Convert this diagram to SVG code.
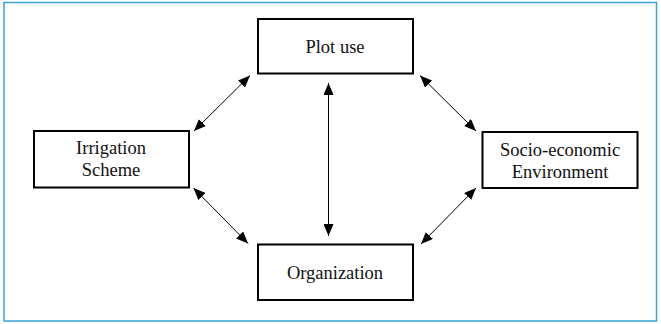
<svg xmlns="http://www.w3.org/2000/svg" width="661" height="324" viewBox="0 0 661 324">
  <style>
    .box { fill: #ffffff; stroke: #000000; stroke-width: 2; }
    .lbl { font-family: "Liberation Serif", "Times New Roman", serif; font-size: 18.5px; fill: #111111; text-anchor: middle; }
    .conn { stroke: #000000; stroke-width: 1; fill: none; marker-start: url(#ah); marker-end: url(#ah); }
  </style>
  <defs>
    <marker id="ah" viewBox="0 0 12 10" refX="12" refY="5" markerWidth="12" markerHeight="10" markerUnits="userSpaceOnUse" orient="auto-start-reverse">
      <path d="M0,0 L12,5 L0,10 z" fill="#000000"/>
    </marker>
  </defs>
  <rect x="0" y="0" width="661" height="324" fill="#ffffff"/>
  <rect x="4" y="2.5" width="652.5" height="318.5" fill="none" stroke="#3aa0d6" stroke-width="1.5"/>

  <g id="connectors">
    <line class="conn" x1="328.5" y1="83" x2="328.5" y2="236"/>
    <line class="conn" x1="250" y1="75.5" x2="194" y2="131"/>
    <line class="conn" x1="420" y1="75.5" x2="476" y2="131"/>
    <line class="conn" x1="193.5" y1="188" x2="248" y2="243.5"/>
    <line class="conn" x1="476" y1="188" x2="421" y2="244"/>
  </g>

  <g id="plot-use">
    <rect class="box" x="258" y="19" width="155" height="54.5"/>
    <text class="lbl" x="335" y="52.5">Plot use</text>
  </g>
  <g id="irrigation-scheme">
    <rect class="box" x="34" y="131" width="155" height="56.5"/>
    <text class="lbl" x="111" y="154">Irrigation</text>
    <text class="lbl" x="111" y="175.5">Scheme</text>
  </g>
  <g id="socio-economic-environment">
    <rect class="box" x="482.5" y="132" width="155" height="56"/>
    <text class="lbl" x="560" y="155.5">Socio-economic</text>
    <text class="lbl" x="560" y="177.5">Environment</text>
  </g>
  <g id="organization">
    <rect class="box" x="258" y="244.5" width="155" height="55.5"/>
    <text class="lbl" x="335" y="279">Organization</text>
  </g>
</svg>
